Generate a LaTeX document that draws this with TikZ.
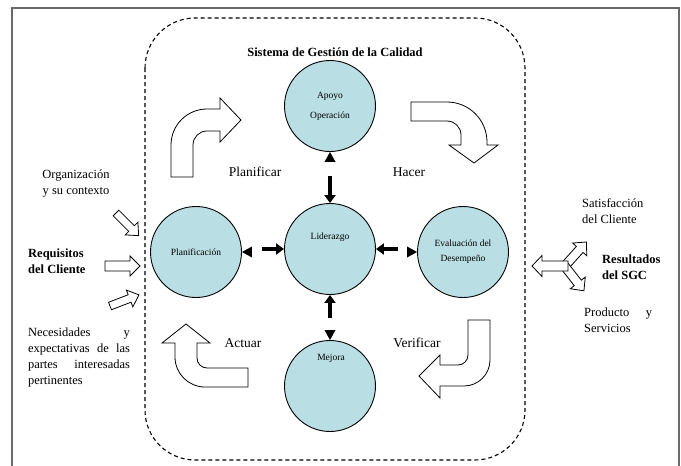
\documentclass[tikz,border=0pt]{standalone}
\usepackage{fontspec}
\setmainfont{Liberation Serif}
\usetikzlibrary{arrows.meta,calc}

\definecolor{circfill}{RGB}{185,222,227}
\definecolor{framegray}{RGB}{105,105,105}

\begin{document}
\begin{tikzpicture}[x=1pt,y=-1pt,
  stage/.style={circle,draw=black,line width=0.9pt,fill=circfill,minimum size=91pt,inner sep=0pt,align=center,font=\fontsize{9.5}{11}\selectfont},
  small/.style={font=\fontsize{9.5}{11}\selectfont},
  cyclelabel/.style={font=\fontsize{13.5}{16}\selectfont},
  side/.style={font=\fontsize{12.5}{16}\selectfont,align=left,inner sep=0pt},
  sidebold/.style={font=\bfseries\fontsize{12.5}{16}\selectfont,align=left,inner sep=0pt},
  blockarrow/.style={draw=black,line width=0.8pt,fill=white,line join=miter},
  link/.style={line width=3.3pt,-{Triangle[length=8pt,width=11pt]}},
  pics/hollowarrow/.style n args={4}{code={
    \draw[blockarrow] (0,-#2) -- ({#1-#4},-#2) -- ({#1-#4},-#3) -- (#1,0)
      -- ({#1-#4},#3) -- ({#1-#4},#2) -- (0,#2) -- cycle;}}
]
\useasboundingbox (0,0) rectangle (681,466);

% outer frame
\draw[framegray,line width=2pt] (12,480) -- (12,8) -- (679,8) -- (679,480);

% quality management system boundary
\draw[line width=1.1pt,dash pattern=on 4pt off 3pt,rounded corners=50pt] (145,18) rectangle (525,460);
\node[font=\bfseries\fontsize{12.5}{15}\selectfont] (title) at (335,52) {Sistema de Gestión de la Calidad};

% process circles
\node[stage] (apo) at (330,106) {Apoyo\\[9pt]Operación};
\node[stage] (lid) at (330,249) {};
\node[small] (lidtext) at (330,237) {Liderazgo};
\node[stage] (pla) at (196,252) {Planificación};
\node[stage] (eva) at (463,252) {Evaluación del\\[4pt]Desempeño};
\node[stage] (mej) at (330,386) {};
\node[small] (mejtext) at (331,358) {Mejora};

% links between leadership and the other processes
\draw[link] ($(lid.north)+(0,-27)$) -- (lid.north);
\fill (apo.south) -- ++(-5.5,10) -- ++(11,0) -- cycle;
\draw[link] ($(lid.south)+(0,23)$) -- (lid.south);
\fill (mej.north) -- ++(-5.5,-10) -- ++(11,0) -- cycle;
\draw[link] ($(lid.west)+(-22,0)$) -- (lid.west);
\fill (pla.east) -- ++(10,-5.5) -- ++(0,11) -- cycle;
\draw[link] ($(lid.east)+(22,0)$) -- (lid.east);
\fill (eva.west) -- ++(-10,-5.5) -- ++(0,11) -- cycle;

% PDCA curved block arrows
\draw[blockarrow] (171,177) -- (171,145) arc[start angle=180,end angle=90,radius=36pt]
  -- (220,109) -- (220,98) -- (241,120) -- (220,142) -- (220,131) -- (207,131)
  arc[start angle=90,end angle=180,radius=14pt] -- (193,177) -- cycle;
\draw[blockarrow] (411,102) -- (447,102) arc[start angle=90,end angle=0,radius=40pt]
  -- (487,145) -- (498,145) -- (474,163) -- (449,145) -- (461,145) -- (461,135)
  arc[start angle=0,end angle=90,radius=14pt] -- (411,121) -- cycle;
\draw[blockarrow] (468,320) -- (490,320) -- (490,360) arc[start angle=0,end angle=-90,radius=26pt]
  -- (440,386) -- (440,398) -- (419,376) -- (440,355) -- (440,365) -- (458,365)
  arc[start angle=-90,end angle=0,radius=10pt] -- cycle;
\draw[blockarrow] (248,368) -- (248,387) -- (205,387) arc[start angle=-90,end angle=-180,radius=30pt]
  -- (175,343) -- (162,343) -- (186,324) -- (210,343) -- (197,343) -- (197,358)
  arc[start angle=180,end angle=270,radius=10pt] -- cycle;

\node[cyclelabel] (plan) at (255,172) {Planificar};
\node[cyclelabel] (hacer) at (409,172) {Hacer};
\node[cyclelabel] (actuar) at (243,343) {Actuar};
\node[cyclelabel] (verif) at (417,343) {Verificar};

% inputs
\node[side,align=center] (org) at (76,183.5) {Organización\\y su contexto};
\node[sidebold,anchor=west] (req) at (28,261) {Requisitos\\del Cliente};
\node[side,font=\fontsize{12.5}{15.7}\selectfont] (need) at (79,357.5)
  {\makebox[102pt][s]{Necesidades y}\\\makebox[102pt][s]{expectativas de las}\\\makebox[102pt][s]{partes interesadas}\\pertinentes};
\pic[rotate=-45] at (116,213) {hollowarrow={32}{4}{9}{10}};
\pic at (105,266) {hollowarrow={35}{5}{10}{10}};
\pic[rotate=21] at (110,306) {hollowarrow={31}{4}{9}{10}};

% outputs
\pic[rotate=48] at (563,268) {hollowarrow={35}{4.5}{9.5}{10}};
\pic[rotate=-52] at (563,264) {hollowarrow={34}{4.5}{9.5}{10}};
\pic[rotate=180] at (568,266) {hollowarrow={36}{5}{10.5}{10}};
\node[side,anchor=west] (sat) at (582,211) {Satisfacción\\del Cliente};
\node[sidebold,anchor=west] (res) at (602,267) {Resultados\\del SGC};
\node[side,anchor=west] (prod) at (584,320) {\makebox[68pt][s]{Producto y}\\Servicios};
\end{tikzpicture}
\end{document}
